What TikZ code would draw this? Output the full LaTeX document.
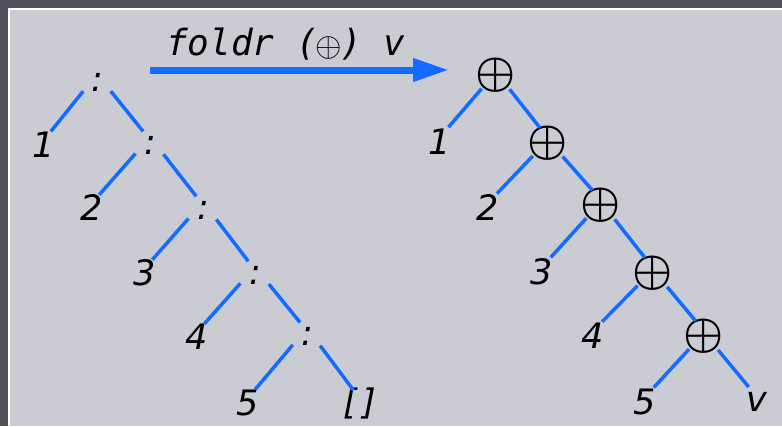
\documentclass[tikz,border=0pt]{standalone}
\usepackage{graphicx}
\usepackage{fontspec}
\setmainfont{DejaVu Sans}
\newfontfamily\monof{DejaVu Sans Mono}
\usetikzlibrary{arrows.meta,calc}
\definecolor{frame}{RGB}{79,79,93}
\definecolor{paper}{RGB}{203,203,211}
\definecolor{edgeblue}{RGB}{17,108,255}
\newcommand\bigop{\scalebox{4.5}{\fontsize{10}{12}\selectfont\boldmath$\oplus$}}
\newcommand\titleop{\scalebox{3.4}{\fontsize{10}{12}\selectfont$\oplus$}}
\begin{document}
\begin{tikzpicture}[x=1pt,y=-1pt,
  lab/.style={inner sep=0pt, font=\fontsize{35}{40}\selectfont\itshape},
  opnode/.style={inner sep=0pt},
  edge/.style={draw=edgeblue, line width=3.5pt},
  ledge/.style={edge, shorten <=22pt, shorten >=11pt},
  redge/.style={edge, shorten <=22pt, shorten >=13pt}]
\fill[frame] (0,0) rectangle (782,426);
\fill[white] (8,8) rectangle (782,426);
\fill[paper] (10,10) rectangle (782,426);
\useasboundingbox (0,0) rectangle (782,426);
% title and arrow
\node[anchor=base west, inner sep=0pt, font=\fontsize{36}{40}\selectfont\monof\itshape] (title) at (166,55) {foldr (\kern-2pt\raisebox{-1pt}{\titleop}\kern-2pt) v};
\coordinate (as) at (150,70);
\coordinate (ae) at (449,70);
\draw[edgeblue, line width=7pt, -{Triangle[length=36pt,width=22pt]}] (as) -- (ae);
% left tree
\node[lab] (c1) at (97,82) {:};
\node[lab] (c2) at (150,145) {:};
\node[lab] (c3) at (203,210) {:};
\node[lab] (c4) at (255,275) {:};
\node[lab] (c5) at (307,336) {:};
\node[lab] (l1) at (44,145) {1};
\node[lab] (l2) at (92,208) {2};
\node[lab] (l3) at (145,273) {3};
\node[lab] (l4) at (197,337) {4};
\node[lab] (l5) at (248,403) {5};
\node[lab] (nil) at (360,404) {[\kern6pt]};
\foreach \p/\a/\b in {c1/l1/c2, c2/l2/c3, c3/l3/c4, c4/l4/c5, c5/l5/nil}{
  \draw[ledge] ([yshift=8pt]\p.center) -- ([yshift=5pt]\a.center);
  \draw[ledge] ([yshift=8pt]\p.center) -- ([yshift=5pt]\b.center);
}
% right tree
\node[opnode] (p1) at (496,75) {\bigop};
\node[opnode] (p2) at (548,143) {\bigop};
\node[opnode] (p3) at (601,205) {\bigop};
\node[opnode] (p4) at (653,273) {\bigop};
\node[opnode] (p5) at (704,336) {\bigop};
\node[lab] (r1) at (440,142) {1};
\node[lab] (r2) at (488,208) {2};
\node[lab] (r3) at (542,272) {3};
\node[lab] (r4) at (593,336) {4};
\node[lab] (r5) at (645,402) {5};
\node[lab] (rv) at (757,402) {v};
\foreach \p/\a/\b in {p1/r1/p2, p2/r2/p3, p3/r3/p4, p4/r4/p5, p5/r5/rv}{
  \draw[redge] ([yshift=3pt]\p.center) -- ([yshift=5pt]\a.center);
  \draw[redge] ([yshift=3pt]\p.center) -- ([yshift=5pt]\b.center);
}
\end{tikzpicture}
\end{document}
